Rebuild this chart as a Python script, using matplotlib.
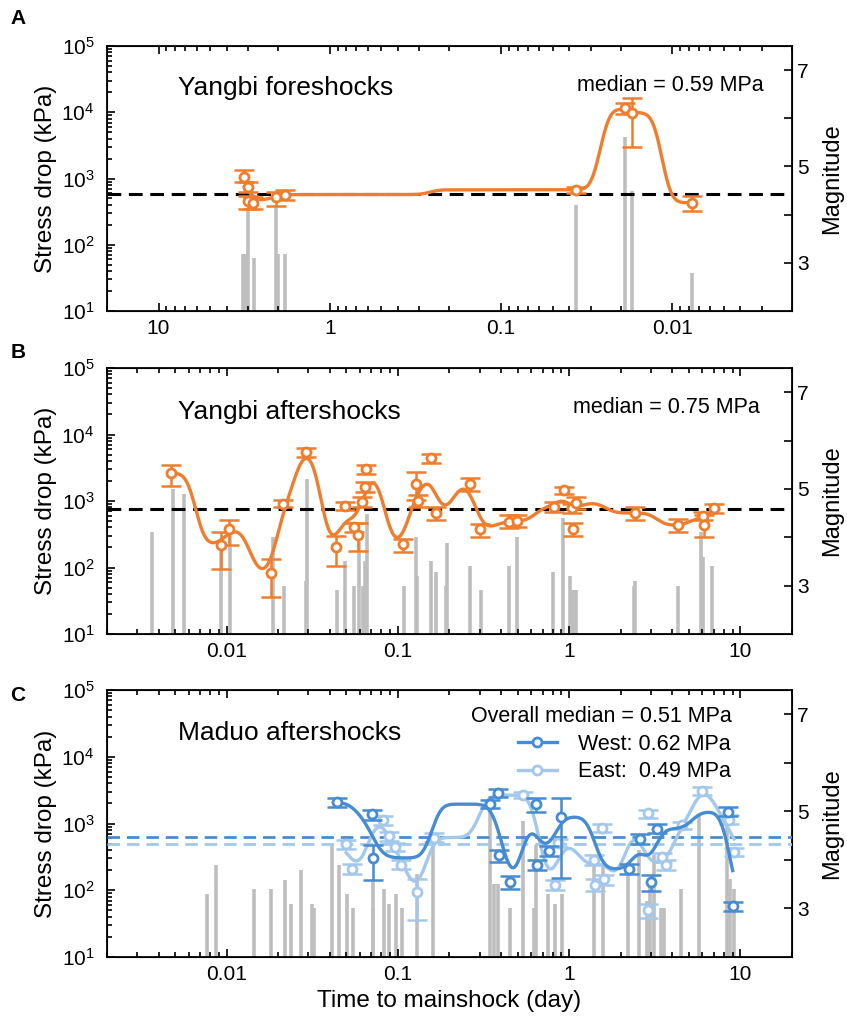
import numpy as np
import matplotlib
matplotlib.use('Agg')
import matplotlib.pyplot as plt
from matplotlib.ticker import FixedLocator, FuncFormatter, LogLocator

plt.rcParams['font.family'] = ['Liberation Sans', 'DejaVu Sans']
plt.rcParams['mathtext.default'] = 'regular'

ORANGE = '#EF7D2D'
WEST_C = '#468CD2'
EAST_C = '#A3C8EC'
BAR_C = '#BEBEBE'

# ---- Yangbi foreshocks (time to mainshock, day ; stress drop, kPa)
a_t = [3.15, 3.0, 3.0, 2.79, 2.07, 1.83, 0.0367, 0.0189, 0.01725, 0.00766]
a_s = [1070, 740, 454, 430, 521, 573, 676, 11400, 9800, 430]
a_hi = [1352, 879, 552, 521, 621, 676, 757, 13800, 16300, 540]
a_lo = [879, 621, 347, 347, 389, 476, 600, 9330, 2960, 320]
a_bar_t = [3.2, 3.1, 2.99, 2.76, 2.06, 2.0, 1.83, 0.0366, 0.0189, 0.01725, 0.00766]
a_bar_m = [3.18, 3.18, 4.1, 3.09, 4.17, 3.18, 3.18, 4.19, 5.61, 4.5, 2.79]
a_median = 590

# ---- Yangbi aftershocks
b_t = [0.00471, 0.00922, 0.01028, 0.01811, 0.0213, 0.0291, 0.0435, 0.0489, 0.0552,
       0.0585, 0.0618, 0.0643, 0.0650, 0.1064, 0.1276, 0.1316, 0.1562, 0.167, 0.265,
       0.303, 0.446, 0.493, 0.817, 0.935, 1.04, 1.10, 1.06, 2.44, 4.34, 6.01, 6.15, 6.97]
b_s = [2630, 221, 376, 83, 912, 5370, 202, 832, 407, 305, 966, 1622, 2985, 224, 1820,
       1000, 4416, 661, 1820, 376, 484, 501, 813, 1445, 794, 933, 380, 661, 431, 589,
       442, 794]
b_hi = [3510, 343, 525, 132, 1023, 6310, 295, 966, 473, 468, 1148, 1928, 3428, 272,
        2723, 1216, 5129, 813, 2213, 457, 610, 610, 966, 1622, 912, 1148, 468, 813,
        531, 684, 610, 912]
b_lo = [1698, 95.5, 216, 36.3, 813, 4571, 105, 724, 343, 180, 813, 1365, 2570, 172,
        1023, 813, 3758, 525, 1413, 288, 398, 407, 684, 1288, 661, 767, 295, 525,
        343, 513, 288, 661]
b_bar_t = [0.00365, 0.00484, 0.00565, 0.0093, 0.0105, 0.01854, 0.0217, 0.0290, 0.0293,
           0.0439, 0.0493, 0.0554, 0.059, 0.0622, 0.0644, 0.0662, 0.1084, 0.1268, 0.130,
           0.157, 0.1667, 0.190, 0.194, 0.264, 0.304, 0.447, 0.497, 0.807, 0.925, 1.01,
           1.06, 1.09, 2.40, 2.44, 4.34, 5.89, 6.02, 6.85]
b_bar_m = [4.1, 4.99, 4.89, 3.85, 4.1, 4.0, 3.0, 3.1, 5.2, 2.9, 3.5, 3.0, 3.9, 3.0, 3.5,
           4.49, 3.0, 4.0, 3.19, 3.5, 3.29, 3.0, 3.89, 3.4, 2.9, 3.4, 4.0, 3.29, 4.4,
           3.19, 2.9, 2.9, 3.0, 3.1, 3.0, 4.1, 3.59, 3.4]
b_median = 750

# ---- Maduo aftershocks, west and east segments
w_t = [0.0442, 0.0703, 0.0716, 0.347, 0.385, 0.39, 0.451, 0.637, 0.645, 0.767, 0.894,
       2.24, 2.59, 2.99, 3.24, 8.43, 9.02]
w_s = [2065, 1365, 305, 1950, 2820, 335, 133, 1950, 237, 389, 1260, 207, 596, 133, 841,
       1496, 57.5]
w_hi = [2371, 1585, 473, 2239, 3236, 398, 162, 2371, 282, 457, 2371, 245, 708, 168, 977,
        1738, 67]
w_lo = [1778, 1122, 141, 1679, 2455, 266, 106, 1496, 204, 324, 155, 178, 501, 98, 724,
        1288, 49]
e_t = [0.0496, 0.0542, 0.082, 0.089, 0.096, 0.104, 0.129, 0.163, 0.54, 0.828, 0.866,
       1.40, 1.42, 1.56, 1.59, 2.88, 2.90, 3.5, 3.66, 4.53, 5.96, 8.61, 9.22]
e_s = [490, 211, 1122, 646, 447, 243, 94, 617, 2660, 122, 519, 282, 120, 871, 145, 1413,
       50, 316, 237, 944, 3090, 1148, 376]
e_hi = [575, 251, 1288, 750, 513, 282, 145, 724, 2985, 141, 596, 335, 145, 977, 168, 1585,
        62, 363, 282, 1059, 3548, 1334, 437]
e_lo = [422, 178, 944, 550, 389, 207, 35.5, 531, 2371, 100, 447, 237, 97, 750, 119, 1230,
        39, 266, 204, 841, 2661, 1000, 324]
c_bar_t = [0.00764, 0.00862, 0.01443, 0.01814, 0.022, 0.0238, 0.0272, 0.0313, 0.0323,
           0.041, 0.0453, 0.0502, 0.0549, 0.0712, 0.0720, 0.083, 0.089, 0.097, 0.105,
           0.129, 0.161, 0.347, 0.365, 0.385, 0.451, 0.54, 0.625, 0.64, 0.755, 0.826,
           0.904, 1.40, 1.58, 2.21, 2.56, 2.83, 2.95, 3.13, 3.43, 3.59, 4.47, 5.75, 8.32,
           8.7, 9.16]
c_bar_m = [3.3, 3.9, 3.4, 3.4, 3.59, 3.1, 3.8, 3.1, 3.0, 4.3, 3.9, 3.3, 3.0, 3.0, 3.6,
           3.4, 3.1, 3.3, 3.0, 3.7, 4.35, 5.15, 3.5, 3.5, 3.0, 4.8, 3.0, 4.3, 3.3, 3.1,
           3.3, 3.95, 3.85, 3.85, 4.2, 3.15, 3.6, 4.1, 3.0, 3.0, 3.4, 4.9, 4.8, 3.6, 3.4]
w_median = 620
e_median = 490


def smooth_curve(t, s, sigma=0.045, h=0.012):
    # nearest-neighbour level in log time, then gaussian smoothing
    lt = np.log10(t)
    ls = np.log10(s)
    grid = np.linspace(lt.min() - 4 * sigma, lt.max() + 4 * sigma, 1200)
    d2 = (grid[:, None] - lt[None, :]) ** 2
    w = np.exp(-(d2 - d2.min(axis=1, keepdims=True)) / (2 * h * h))
    step = (w * ls).sum(1) / w.sum(1)
    dx = grid[1] - grid[0]
    n = int(4 * sigma / dx)
    k = np.arange(-n, n + 1) * dx
    kern = np.exp(-k ** 2 / (2 * sigma ** 2))
    kern /= kern.sum()
    sm = np.convolve(step, kern, mode='same')
    keep = (grid >= lt.min()) & (grid <= lt.max())
    return 10 ** grid[keep], 10 ** sm[keep]


def draw_series(ax, t, s, lo, hi, color, zo=5):
    t = np.array(t); s = np.array(s)
    err = [s - np.array(lo), np.array(hi) - s]
    ax.errorbar(t, s, yerr=err, fmt='none', ecolor=color, elinewidth=1.8,
                capsize=7, capthick=1.8, zorder=zo)
    order = np.argsort(t)
    ct, cs = smooth_curve(t[order], s[order])
    ax.plot(ct, cs, color=color, lw=2.4, zorder=zo + 1)
    ax.plot(t, s, 'o', ms=6.5, mfc='white', mec=color, mew=2.0, zorder=zo + 2)


def setup_panel(ax, bar_t, bar_m, xlim, xticks):
    ax.set_xscale('log')
    ax.set_yscale('log')
    ax.set_xlim(*xlim)
    ax.set_ylim(10, 1e5)
    ax.xaxis.set_major_locator(FixedLocator(xticks))
    ax.xaxis.set_major_formatter(FuncFormatter(lambda v, p: '%g' % v))
    ax.yaxis.set_major_locator(LogLocator(base=10, numticks=10))
    ax.tick_params(which='both', direction='in', top=True, right=False, labelsize=15,
                   width=1.2)
    ax.tick_params(which='major', length=6)
    ax.tick_params(which='minor', length=3.5)
    ax.tick_params(axis='x', which='major', pad=6)
    ax.tick_params(axis='y', which='major', pad=9)
    ax.set_ylabel('Stress drop (kPa)', fontsize=17.5, labelpad=3)
    for sp in ax.spines.values():
        sp.set_linewidth(1.3)
    ax2 = ax.twinx()
    ax2.vlines(bar_t, 2, bar_m, color=BAR_C, lw=2.6)
    ax2.set_ylim(2, 7.5)
    ax2.set_yticks([3, 4, 5, 6, 7])
    ax2.set_yticklabels(['3', '', '5', '', '7'])
    ax2.tick_params(direction='in', length=6, width=1.2, labelsize=15)
    ax2.set_ylabel('Magnitude', fontsize=17, labelpad=9)
    ax.set_zorder(ax2.get_zorder() + 1)
    ax.patch.set_visible(False)
    return ax2


fig = plt.figure(figsize=(8.47, 10.18), dpi=100)
L, W = 0.1263, 0.8087
axA = fig.add_axes([L, 0.6945, W, 0.2603])
axB = fig.add_axes([L, 0.3772, W, 0.2613])
axC = fig.add_axes([L, 0.0599, W, 0.2623])

# A
setup_panel(axA, a_bar_t, a_bar_m, (20, 0.002), [10, 1, 0.1, 0.01])
axA.axhline(a_median, color='k', ls=(0, (4.5, 2.5)), lw=2.2, zorder=3)
draw_series(axA, a_t, a_s, a_lo, a_hi, ORANGE)
axA.text(0.104, 0.84, 'Yangbi foreshocks', transform=axA.transAxes, fontsize=19,
         va='center', ha='left')
axA.text(0.958, 0.852, 'median = 0.59 MPa', transform=axA.transAxes, fontsize=15.5,
         va='center', ha='right')

# B
setup_panel(axB, b_bar_t, b_bar_m, (0.002, 20), [0.01, 0.1, 1, 10])
axB.axhline(b_median, color='k', ls=(0, (4.5, 2.5)), lw=2.2, zorder=3)
draw_series(axB, b_t, b_s, b_lo, b_hi, ORANGE)
axB.text(0.104, 0.836, 'Yangbi aftershocks', transform=axB.transAxes, fontsize=19,
         va='center', ha='left')
axB.text(0.953, 0.851, 'median = 0.75 MPa', transform=axB.transAxes, fontsize=15.5,
         va='center', ha='right')

# C
setup_panel(axC, c_bar_t, c_bar_m, (0.002, 20), [0.01, 0.1, 1, 10])
axC.axhline(w_median, color=WEST_C, ls=(0, (4.5, 2.5)), lw=2.0, zorder=3)
axC.axhline(e_median, color=EAST_C, ls=(0, (4.5, 2.5)), lw=2.0, zorder=3)
draw_series(axC, e_t, e_s, e_lo, e_hi, EAST_C, zo=4)
draw_series(axC, w_t, w_s, w_lo, w_hi, WEST_C, zo=8)
axC.text(0.104, 0.839, 'Maduo aftershocks', transform=axC.transAxes, fontsize=19,
         va='center', ha='left')
axC.plot([], [], '-o', color=WEST_C, lw=2.4, ms=6.5, mfc='white', mew=2.0,
         label='West: 0.62 MPa')
axC.plot([], [], '-o', color=EAST_C, lw=2.4, ms=6.5, mfc='white', mew=2.0,
         label='East:  0.49 MPa')
leg = axC.legend(title='Overall median = 0.51 MPa', loc='upper right',
                 bbox_to_anchor=(0.935, 1.0), frameon=False, fontsize=15.5,
                 title_fontsize=15.5, alignment='right', handlelength=1.8,
                 labelspacing=0.3, borderpad=0.25, handletextpad=1.0)
axC.set_xlabel('Time to mainshock (day)', fontsize=17.5, labelpad=4)

fig.text(0.012, 0.982, 'A', fontsize=15, weight='bold', va='center')
fig.text(0.012, 0.654, 'B', fontsize=15, weight='bold', va='center')
fig.text(0.012, 0.317, 'C', fontsize=15, weight='bold', va='center')

fig.savefig('out.png', dpi=100)
